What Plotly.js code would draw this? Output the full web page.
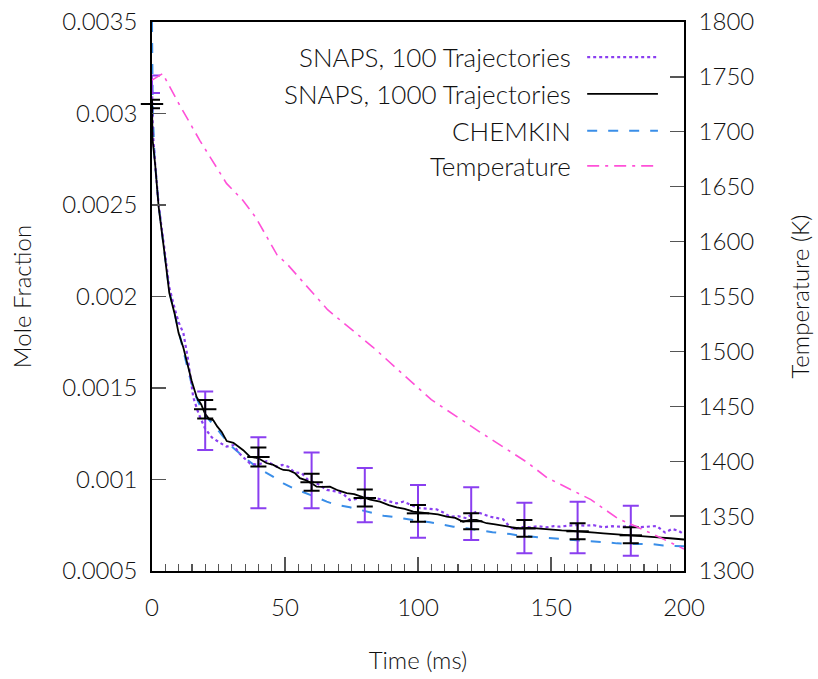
<!DOCTYPE html>
<html>
<head>
<meta charset="utf-8">
<script src="https://cdn.plot.ly/plotly-3.0.1.min.js"></script>
<style>
html,body{margin:0;padding:0;background:#fff;}
#chart{width:818px;height:679px;}
</style>
</head>
<body>
<div id="chart"></div>
<script>
// ---- data ----
const tSnaps1000 = [0,0.2,1.2,2.5,4.5,6.5,8.6,10,11.8,13.5,14.9,16.8,18.5,19.9,21.5,23,24.5,26.2,28.1,30.6,32.5,34.3,36.8,38.5,40,43,45.6,48.1,49.4,51.5,53.8,55.6,58,60,61.9,64,66.9,70,73.2,76,79.4,82,85.7,89,92,95,98.2,101,104.5,107.5,110.8,114,117,119.5,122,125.8,129,132,135,138.3,141,144.6,148,150.9,154,157.1,160,163.4,166.5,169.7,173,175.9,179,182.2,185,188.5,191.5,194.7,197,200];
const xSnaps1000 = [0.00305,0.00286,0.00272,0.00249,0.00226,0.00202,0.00190,0.00180,0.00172,0.00162,0.00154,0.00145,0.00141,0.00136,0.00133,0.001325,0.00129,0.00126,0.00121,0.00120,0.00118,0.00116,0.001125,0.00112,0.001116,0.00109,0.00108,0.00106,0.001052,0.00105,0.001034,0.001007,0.000995,0.000979,0.000961,0.00096,0.000961,0.00094,0.000925,0.00092,0.000903,0.00089,0.000879,0.00086,0.000848,0.00084,0.000824,0.00082,0.000811,0.00081,0.000797,0.00079,0.000769,0.000779,0.000779,0.000761,0.000755,0.000746,0.00074,0.000733,0.000735,0.000733,0.000728,0.000724,0.000722,0.00072,0.000718,0.000715,0.00071,0.000706,0.000702,0.000697,0.000694,0.000691,0.000688,0.000684,0.000682,0.000679,0.000676,0.000672];

const tSnaps100 = [0,0.3,1.2,2.5,4.5,6.5,8.6,10,11.8,13.5,15.5,17.5,19.9,22.5,25.6,28,30.6,33,36.8,40,43,46.9,49,51.2,53.5,56.3,58.5,60.6,63,65.7,69.4,72,74.4,78.2,81,84.5,87,89.5,92,94.5,97.5,100.8,104,107,109.5,112,115,118.3,120,122,124.5,127,129.5,132,134,135.8,139,142.1,145,148.4,151,153.4,156.5,159.7,163,165.9,169.7,173,175.9,180,183.5,187,189.7,192.9,195.5,197.9,200];
const xSnaps100 = [0.00316,0.0029,0.00272,0.0025,0.00228,0.00205,0.00193,0.00186,0.00180,0.00166,0.00145,0.00136,0.00128,0.00123,0.00120,0.00118,0.001188,0.00114,0.001088,0.00108,0.00110,0.00107,0.00108,0.00107,0.00104,0.001034,0.00100,0.000988,0.00097,0.000943,0.000934,0.00092,0.000888,0.000897,0.00090,0.000897,0.00089,0.000879,0.00087,0.000879,0.00086,0.000843,0.00084,0.000837,0.00082,0.000797,0.0008,0.000788,0.00081,0.000824,0.00081,0.000797,0.00079,0.000783,0.00075,0.000728,0.00074,0.000739,0.000745,0.000739,0.000745,0.000742,0.000748,0.000751,0.000748,0.000751,0.000739,0.000745,0.000742,0.000745,0.000739,0.000745,0.000746,0.00071,0.00073,0.00072,0.0007];

const tChemkin = [0,0.3,1,2.5,4.5,6.5,8.6,10,11.8,13.5,15.5,17.5,20,23.7,27,30,35.6,40,45,49.4,53.1,57.5,61.3,65.7,69.4,74.4,78.2,83.2,87,92,95.8,100.8,104.5,109.5,113.3,118.3,122,128,134.6,138.3,145,153.4,157.1,163,170.9,174.7,181,188.5,192.2,197.2,200];
const xChemkin = [0.0035,0.0030,0.00275,0.00250,0.00226,0.00203,0.00190,0.00181,0.00171,0.00160,0.00149,0.00142,0.00135,0.00129,0.00123,0.00118,0.00111,0.00106,0.00102,0.000979,0.000952,0.000925,0.000906,0.000879,0.000861,0.000848,0.000833,0.000815,0.000802,0.000793,0.000783,0.000773,0.000766,0.000751,0.000742,0.000733,0.000724,0.000712,0.000702,0.000693,0.000685,0.000675,0.000669,0.000664,0.000657,0.000651,0.000648,0.000646,0.00064,0.000637,0.000635];

const tTemp = [0,4,6,10,18,26,28,34,39,47,51,66,83,105,121,123,141,148.5,165,175,188,200];
const temp  = [1747,1753,1744,1726,1692,1660,1653,1638,1622,1588,1579,1538,1504,1456,1430,1427,1399,1385,1365,1348,1334,1320];

const tErr = [0,20,40,60,80,100,120,140,160,180];
const mean100 = [0.00316,0.001321,0.001037,0.000995,0.000915,0.000826,0.000813,0.000735,0.000738,0.000720];
const err100  = [0.000048,0.00016,0.000194,0.000152,0.000148,0.000144,0.000144,0.000138,0.000141,0.000137];
const mean1000 = [0.003052,0.001384,0.001123,0.000985,0.000899,0.000815,0.000772,0.000733,0.000717,0.000695];
const err1000  = [0.000023,0.000051,0.000052,0.000046,0.000047,0.000046,0.000044,0.000046,0.000044,0.000044];

const yTickVals = [0.0005,0.001,0.0015,0.002,0.0025,0.003,0.0035];
const yTickText = ['0.0005','0.001','0.0015','0.002','0.0025','0.003','0.0035'];
const legendNames = ['SNAPS, 100 Trajectories','SNAPS, 1000 Trajectories','CHEMKIN','Temperature'];

// ---- styles ----
const cPurple = '#8a3ff0', cBlack = '#000000', cBlue = '#3a8ee8', cPink = '#ff50d8';
const FONT = 'Lato, "Open Sans", sans-serif';
const TXT = '#111111';

const traces = [
  {x:tTemp, y:temp, yaxis:'y2', mode:'lines', line:{color:cPink, width:1.6, dash:'12px,6px,3px,6px'}, showlegend:false, hoverinfo:'skip'},
  {x:tChemkin, y:xChemkin, mode:'lines', line:{color:cBlue, width:2, dash:'10px,11px'}, showlegend:false, hoverinfo:'skip'},
  {x:tSnaps100, y:xSnaps100, mode:'lines', line:{color:cPurple, width:2.2, dash:'dot'}, showlegend:false, hoverinfo:'skip'},
  {x:tSnaps1000, y:xSnaps1000, mode:'lines', line:{color:cBlack, width:1.8}, showlegend:false, hoverinfo:'skip'},
  {x:tErr, y:mean100, mode:'markers', marker:{size:1, color:'rgba(0,0,0,0)'}, cliponaxis:false,
   error_y:{type:'data', array:err100, visible:true, color:cPurple, thickness:2, width:8}, showlegend:false, hoverinfo:'skip'},
  {x:tErr, y:mean1000, mode:'markers', cliponaxis:false,
   marker:{symbol:'line-ew', size:16, line:{color:cBlack, width:2}},
   error_y:{type:'data', array:err1000, visible:true, color:cBlack, thickness:2, width:8}, showlegend:false, hoverinfo:'skip'}
];

// legend (text right-aligned, sample to the right of text)
const legRowsY = [0.936, 0.869, 0.802, 0.738];
const legStyles = [
  {color:cPurple, width:2.2, dash:'dot'},
  {color:cBlack, width:1.8, dash:'solid'},
  {color:cBlue, width:2, dash:'10px,11px'},
  {color:cPink, width:1.6, dash:'12px,6px,3px,6px'}
];
const annotations = legendNames.map((n,i)=>({
  xref:'paper', yref:'paper', x:0.791, y:legRowsY[i], xanchor:'right', yanchor:'middle',
  text:n, showarrow:false, font:{family:FONT, size:26, color:TXT, weight:300}
}));
const shapes = legendNames.map((n,i)=>({
  type:'line', xref:'paper', yref:'paper', x0:0.818, x1:0.951, y0:legRowsY[i], y1:legRowsY[i],
  line:legStyles[i]
}));

const axisFont = {family:FONT, size:24, color:TXT, weight:300};
const titleFont = {family:FONT, size:24, color:TXT, weight:300};
const layout = {
  width:818, height:679,
  margin:{l:152, r:134, t:22, b:108},
  paper_bgcolor:'#fff', plot_bgcolor:'#fff',
  font:{family:FONT, color:TXT},
  showlegend:false,
  xaxis:{
    range:[0,200], dtick:50, tick0:0, ticks:'inside', ticklen:14, tickwidth:1.2, tickcolor:'#555',
    minor:{dtick:5, ticks:'inside', ticklen:7, tickwidth:1.2, tickcolor:'#555', showgrid:false},
    showline:true, linecolor:'#000', linewidth:1.8, mirror:true, showgrid:false, zeroline:false,
    tickfont:axisFont, ticklabelstandoff:14,
    title:{text:'Time (ms)', font:titleFont, standoff:33}
  },
  yaxis:{
    range:[0.0005,0.0035], tickvals:yTickVals, ticktext:yTickText, ticks:'inside', ticklen:14, tickwidth:1.2, tickcolor:'#555',
    showline:true, linecolor:'#000', linewidth:1.8, showgrid:false, zeroline:false,
    tickfont:axisFont, ticklabelstandoff:8,
    title:{text:'Mole Fraction', font:titleFont, standoff:24}
  },
  yaxis2:{
    range:[1300,1800], dtick:50, overlaying:'y', side:'right', ticks:'inside', ticklen:14, tickwidth:1.2, tickcolor:'#555',
    showline:true, linecolor:'#000', linewidth:1.8, showgrid:false, zeroline:false,
    tickfont:axisFont, ticklabelstandoff:8,
    title:{text:'Temperature (K)', font:titleFont, standoff:39}
  },
  annotations:annotations,
  shapes:shapes
};

Plotly.newPlot('chart', traces, layout, {staticPlot:true, displayModeBar:false});
</script>
</body>
</html>
